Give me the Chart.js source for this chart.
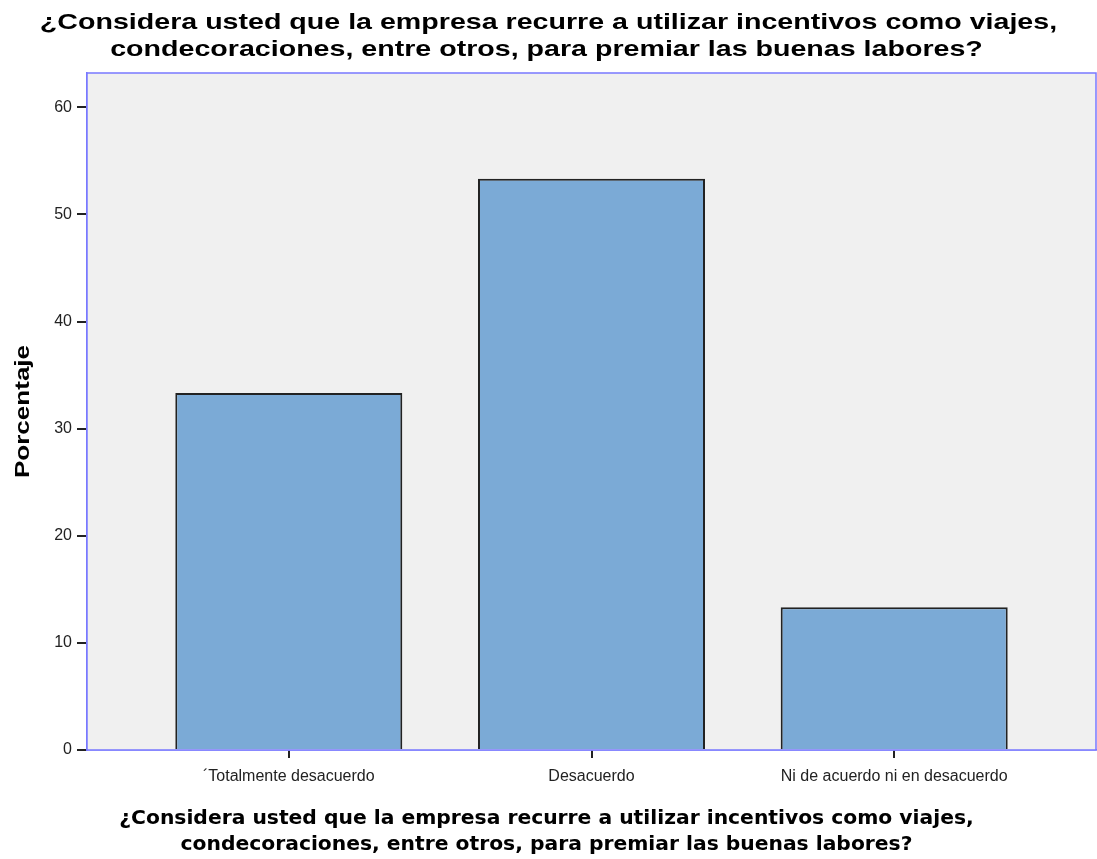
<!DOCTYPE html>
<html>
<head>
<meta charset="utf-8">
<script src="https://cdn.jsdelivr.net/npm/chart.js@4/dist/chart.umd.min.js"></script>
<style>
  html, body { margin: 0; padding: 0; background: #fff; }
  #wrap { width: 1097px; height: 859px; }
</style>
</head>
<body>
<div id="wrap"><canvas id="chart"></canvas></div>
<script>
const question = ['¿Considera usted que la empresa recurre a utilizar incentivos como viajes,',
                  'condecoraciones, entre otros, para premiar las buenas labores?'];
const yTitle = 'Porcentaje';
const categories = ['\u00B4Totalmente desacuerdo', 'Desacuerdo', 'Ni de acuerdo ni en desacuerdo'];
const percentages = [33.33, 53.33, 13.33];
const yTicks = [0, 10, 20, 30, 40, 50, 60];

const frameBlue = '#7878ff';
const tickDark = '#222222';

// grey plot background + blue frame round the chart area
const plotFrame = {
    id: 'plotFrame',
    beforeDatasetsDraw(chart) {
        const { ctx, chartArea: a } = chart;
        ctx.save();
        ctx.fillStyle = '#f0f0f0';
        ctx.fillRect(a.left, a.top, a.right - a.left, a.bottom - a.top);
        ctx.restore();
    },
    afterDatasetsDraw(chart) {
        const { ctx, chartArea: a } = chart;
        ctx.save();
        ctx.strokeStyle = frameBlue;
        ctx.lineWidth = 1.5;
        ctx.strokeRect(a.left, a.top, a.right - a.left, a.bottom - a.top);
        ctx.restore();
    }
};

// the heading and the y title use a wide bold face, so stretch them sideways
function wideText(ctx, text, x, y, sx, angle) {
    ctx.save();
    ctx.translate(x, y);
    if (angle) ctx.rotate(angle);
    ctx.scale(sx, 1);
    ctx.fillText(text, 0, 0);
    ctx.restore();
}

// titles are centred on the whole canvas, not on the plot area
const pageTitles = {
    id: 'pageTitles',
    afterDraw(chart) {
        const { ctx, chartArea: a } = chart;
        const cx = chart.width / 2;
        ctx.save();
        ctx.fillStyle = '#000';
        ctx.textAlign = 'center';
        ctx.textBaseline = 'alphabetic';
        ctx.font = 'bold 22px "Liberation Sans"';
        wideText(ctx, question[0], cx, 29, 1.3);
        wideText(ctx, question[1], cx - 2, 56, 1.3);

        ctx.textBaseline = 'middle';
        ctx.font = 'bold 21px "Liberation Sans"';
        wideText(ctx, yTitle, 23, (a.top + a.bottom) / 2, 1.24, -Math.PI / 2);

        ctx.font = 'bold 20.3px "DejaVu Sans"';
        ctx.fillText(question[0], cx - 2, a.bottom + 69);
        ctx.fillText(question[1], cx - 2, a.bottom + 95);
        ctx.restore();
    }
};

const ctx = document.getElementById('chart').getContext('2d');
new Chart(ctx, {
    type: 'bar',
    data: {
        datasets: [{
            data: percentages.map((v, i) => ({ x: i, y: v })),
            backgroundColor: '#7baad6',
            borderColor: '#222222',
            borderWidth: 2,
            borderSkipped: 'bottom',
            barPercentage: 0.75,
            categoryPercentage: 1
        }]
    },
    options: {
        responsive: true,
        maintainAspectRatio: false,
        animation: false,
        layout: { padding: { top: 73, right: 1, left: 0, bottom: 0 } },
        plugins: {
            legend: { display: false },
            tooltip: { enabled: false },
            title: { display: false }
        },
        scales: {
            x: {
                type: 'linear',
                offset: false,
                min: -2 / 3,
                max: 8 / 3,
                afterBuildTicks: s => { s.ticks = categories.map((c, i) => ({ value: i })); },
                afterFit: s => { s.height = 109; },
                ticks: {
                    callback: v => categories[v],
                    color: '#222',
                    font: { family: 'Liberation Sans', size: 16 },
                    padding: 9,
                    maxRotation: 0,
                    autoSkip: false
                },
                grid: { offset: false, drawOnChartArea: false, drawTicks: true, tickLength: 8, color: tickDark, lineWidth: 2 },
                border: { display: true, color: frameBlue, width: 1.5 }
            },
            y: {
                min: 0,
                max: 63.2,
                afterBuildTicks: s => { s.ticks = yTicks.map(v => ({ value: v })); },
                afterFit: s => { s.width = 87; },
                ticks: {
                    color: '#222',
                    font: { family: 'Liberation Sans', size: 16 },
                    padding: 5
                },
                grid: { drawOnChartArea: false, drawTicks: true, tickLength: 10, color: tickDark, lineWidth: 2 },
                border: { display: true, color: frameBlue, width: 1.5 }
            }
        }
    },
    plugins: [plotFrame, pageTitles]
});
</script>
</body>
</html>
